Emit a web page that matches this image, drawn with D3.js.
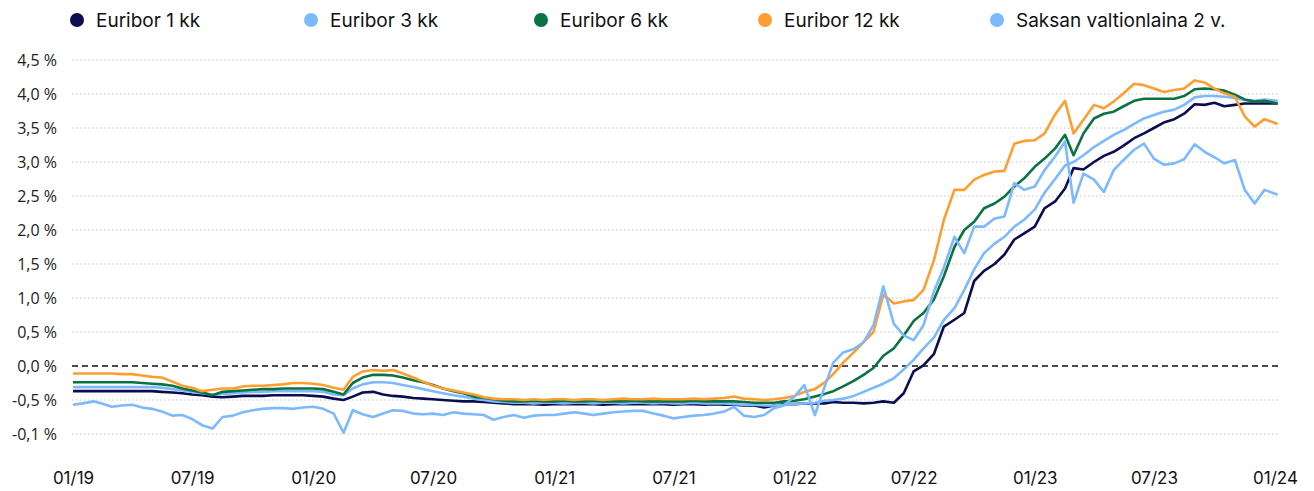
<!DOCTYPE html>
<html>
<head>
<meta charset="utf-8">
<script src="https://cdn.jsdelivr.net/npm/d3@7"></script>
<style>
  body { margin: 0; background: #fff; }
  svg { display: block; }
</style>
</head>
<body>
<svg id="chart" width="1314" height="491"></svg>
<script>
// half-monthly readings, 1st and 16th of each month from 01/2019, last one early 01/2024
const dates = d3.range(121).map(i => i < 120 ? new Date(2019, Math.floor(i / 2), i % 2 ? 16 : 1) : new Date(2024, 0, 5));

const euribor1 = [
  -0.37,-0.37,-0.37,-0.37,-0.37,-0.37,-0.37,-0.37,-0.37,
  -0.38,-0.39,-0.40,-0.42,-0.43,-0.45,-0.46,-0.45,-0.44,-0.44,-0.44,-0.43,
  -0.43,-0.43,-0.43,-0.44,-0.45,-0.48,-0.50,-0.45,-0.39,-0.38,
  -0.42,-0.44,-0.45,-0.47,-0.48,-0.49,-0.50,-0.51,-0.52,-0.52,
  -0.53,-0.54,-0.55,-0.56,-0.56,-0.56,-0.57,-0.56,-0.56,-0.56,
  -0.56,-0.56,-0.57,-0.56,-0.56,-0.56,-0.56,-0.56,-0.56,-0.57,
  -0.56,-0.56,-0.57,-0.56,-0.57,-0.57,-0.58,-0.58,-0.61,-0.58,
  -0.56,-0.56,-0.55,-0.55,-0.55,-0.53,-0.54,-0.54,-0.55,-0.54,
  -0.52,-0.54,-0.40,-0.08,0.01,0.18,0.58,0.68,0.78,1.25,
  1.40,1.50,1.64,1.86,1.95,2.05,2.32,2.42,2.61,2.91,
  2.89,3.00,3.09,3.15,3.24,3.35,3.42,3.50,3.58,3.63,
  3.71,3.85,3.84,3.87,3.82,3.84,3.86,3.86,3.86,3.86
];

const euribor3 = [
  -0.31,-0.31,-0.31,-0.31,-0.31,-0.31,-0.31,-0.31,-0.31,
  -0.32,-0.34,-0.36,-0.38,-0.40,-0.42,-0.41,-0.40,-0.39,-0.38,-0.38,-0.37,
  -0.37,-0.37,-0.37,-0.37,-0.38,-0.42,-0.43,-0.33,-0.27,-0.24,
  -0.24,-0.25,-0.28,-0.31,-0.34,-0.37,-0.40,-0.43,-0.45,-0.48,
  -0.50,-0.52,-0.53,-0.54,-0.54,-0.55,-0.54,-0.54,-0.55,-0.54,
  -0.54,-0.55,-0.54,-0.54,-0.55,-0.54,-0.54,-0.55,-0.54,-0.55,
  -0.55,-0.54,-0.55,-0.55,-0.55,-0.56,-0.57,-0.57,-0.58,-0.58,
  -0.57,-0.56,-0.55,-0.54,-0.51,-0.50,-0.48,-0.44,-0.38,-0.32,
  -0.26,-0.18,-0.05,0.09,0.26,0.42,0.68,0.85,1.12,1.42,
  1.66,1.80,1.90,2.05,2.15,2.30,2.55,2.75,2.95,3.00,
  3.10,3.22,3.31,3.40,3.47,3.56,3.64,3.69,3.74,3.77,
  3.84,3.95,3.97,3.97,3.96,3.94,3.91,3.90,3.92,3.90
];

const euribor6 = [
  -0.24,-0.24,-0.24,-0.24,-0.24,-0.24,-0.24,-0.25,-0.26,
  -0.27,-0.29,-0.33,-0.36,-0.39,-0.43,-0.38,-0.37,-0.36,-0.35,-0.34,-0.34,
  -0.33,-0.33,-0.33,-0.33,-0.34,-0.38,-0.42,-0.25,-0.17,-0.13,
  -0.13,-0.14,-0.17,-0.21,-0.24,-0.28,-0.33,-0.37,-0.40,-0.45,
  -0.47,-0.49,-0.51,-0.52,-0.52,-0.51,-0.52,-0.52,-0.51,-0.52,
  -0.52,-0.51,-0.52,-0.52,-0.52,-0.51,-0.52,-0.52,-0.52,-0.52,
  -0.52,-0.51,-0.52,-0.52,-0.52,-0.52,-0.53,-0.54,-0.54,-0.54,
  -0.52,-0.51,-0.49,-0.45,-0.41,-0.37,-0.30,-0.22,-0.13,-0.03,
  0.15,0.26,0.45,0.66,0.78,0.98,1.32,1.75,2.00,2.12,
  2.32,2.39,2.49,2.64,2.76,2.93,3.05,3.20,3.40,3.10,
  3.42,3.64,3.71,3.74,3.82,3.90,3.93,3.93,3.93,3.93,
  3.97,4.07,4.08,4.07,4.05,3.99,3.92,3.89,3.90,3.86
];

const euribor12 = [
  -0.11,-0.11,-0.11,-0.11,-0.11,-0.12,-0.12,-0.14,-0.16,
  -0.17,-0.23,-0.29,-0.32,-0.37,-0.35,-0.33,-0.33,-0.30,-0.29,-0.29,-0.28,
  -0.27,-0.25,-0.25,-0.26,-0.28,-0.32,-0.35,-0.16,-0.08,-0.06,
  -0.07,-0.06,-0.11,-0.17,-0.23,-0.29,-0.33,-0.36,-0.39,-0.42,
  -0.46,-0.48,-0.49,-0.49,-0.50,-0.49,-0.50,-0.49,-0.49,-0.50,
  -0.49,-0.49,-0.50,-0.49,-0.48,-0.49,-0.49,-0.48,-0.49,-0.49,
  -0.49,-0.48,-0.49,-0.48,-0.47,-0.45,-0.48,-0.49,-0.50,-0.49,
  -0.47,-0.44,-0.38,-0.34,-0.24,-0.12,0.05,0.20,0.35,0.50,
  1.05,0.92,0.95,0.97,1.12,1.56,2.15,2.59,2.59,2.74,
  2.81,2.86,2.87,3.27,3.31,3.32,3.42,3.70,3.90,3.42,
  3.62,3.84,3.79,3.89,4.01,4.15,4.13,4.08,4.03,4.06,
  4.08,4.20,4.17,4.08,4.01,3.96,3.67,3.52,3.63,3.56
];

const bund2y = [
  -0.57,-0.55,-0.52,-0.56,-0.60,-0.58,-0.57,-0.61,-0.63,
  -0.67,-0.73,-0.72,-0.78,-0.87,-0.92,-0.75,-0.73,-0.68,-0.65,-0.63,-0.62,
  -0.62,-0.63,-0.61,-0.60,-0.63,-0.70,-0.98,-0.65,-0.71,-0.75,
  -0.70,-0.65,-0.66,-0.70,-0.71,-0.70,-0.72,-0.68,-0.70,-0.71,
  -0.72,-0.79,-0.75,-0.72,-0.76,-0.73,-0.72,-0.72,-0.70,-0.68,
  -0.70,-0.72,-0.70,-0.68,-0.67,-0.66,-0.66,-0.70,-0.73,-0.77,
  -0.75,-0.73,-0.72,-0.70,-0.67,-0.60,-0.73,-0.75,-0.72,-0.62,
  -0.58,-0.45,-0.28,-0.72,-0.30,0.05,0.20,0.25,0.35,0.60,
  1.17,0.62,0.45,0.38,0.60,1.10,1.45,1.90,1.66,2.05,
  2.05,2.17,2.20,2.69,2.59,2.64,2.88,3.08,3.30,2.40,
  2.83,2.74,2.56,2.88,3.03,3.18,3.27,3.05,2.96,2.98,
  3.04,3.26,3.15,3.07,2.98,3.03,2.59,2.39,2.59,2.52
];

const seriesNames = ['Euribor 1 kk', 'Euribor 3 kk', 'Euribor 6 kk', 'Euribor 12 kk', 'Saksan valtionlaina 2 v.'];
const seriesValues = [euribor1, euribor3, euribor6, euribor12, bund2y];
const seriesColors = ['#0c0d50', '#7cb9ff', '#0a7341', '#ff9e30', '#7cb9ff'];

const yTicks = [-1, -0.5, 0, 0.5, 1, 1.5, 2, 2.5, 3, 3.5, 4, 4.5];
const yTickLabels = ['-0,1 %', '-0,5 %', '0,0 %', '0,5 %', '1,0 %', '1,5 %', '2,0 %', '2,5 %', '3,0 %', '3,5 %', '4,0 %', '4,5 %'];
const xTicks = ['2019-01', '2019-07', '2020-01', '2020-07', '2021-01', '2021-07', '2022-01', '2022-07', '2023-01', '2023-07', '2024-01'];

const svg = d3.select('#chart');

const x = d3.scaleTime()
  .domain([new Date(2019, 0, 1), new Date(2024, 0, 1)])
  .range([73, 1275]);

const y = d3.scaleLinear()
  .domain([-1, 4.5])
  .range([434, 60]);

const gridLeft = 72, gridRight = 1280;

// dotted grid
svg.append('g')
  .selectAll('line')
  .data(yTicks.filter(v => v !== 0))
  .join('line')
    .attr('x1', gridLeft)
    .attr('x2', gridRight)
    .attr('y1', d => y(d))
    .attr('y2', d => y(d))
    .attr('stroke', '#c4c4c4')
    .attr('stroke-width', 1)
    .attr('stroke-dasharray', '1.5,2.5');

// y labels
const yAxis = d3.axisLeft(y)
  .tickValues(yTicks)
  .tickSize(0)
  .tickPadding(0)
  .tickFormat((d, i) => yTickLabels[i]);

svg.append('g')
  .attr('transform', 'translate(57,0)')
  .call(yAxis)
  .call(g => g.select('.domain').remove())
  .call(g => g.selectAll('text')
    .attr('font-family', '"Open Sans", sans-serif')
    .attr('font-size', 16)
    .attr('fill', '#222'));

// x labels
const parseMonth = d3.timeParse('%Y-%m');
const xAxis = d3.axisBottom(x)
  .tickValues(xTicks.map(parseMonth))
  .tickSize(0)
  .tickPadding(0)
  .tickFormat(d3.timeFormat('%m/%y'));

svg.append('g')
  .attr('transform', 'translate(0,472)')
  .call(xAxis)
  .call(g => g.select('.domain').remove())
  .call(g => g.selectAll('text')
    .attr('font-family', 'Inter, sans-serif')
    .attr('font-size', 17)
    .attr('fill', '#111'));

// zero line
svg.append('line')
  .attr('x1', gridLeft)
  .attr('x2', gridRight)
  .attr('y1', y(0))
  .attr('y2', y(0))
  .attr('stroke', '#111')
  .attr('stroke-width', 1.5)
  .attr('stroke-dasharray', '6,4');

// lines
const line = d3.line()
  .x((d, i) => x(dates[i]))
  .y(d => y(d));

svg.append('g')
  .selectAll('path')
  .data(seriesValues)
  .join('path')
    .attr('d', d => line(d))
    .attr('fill', 'none')
    .attr('stroke', (d, i) => seriesColors[i])
    .attr('stroke-width', 2.6)
    .attr('stroke-linejoin', 'round');

// legend
const legendX = [77, 311, 541, 765, 997];
const legend = svg.append('g')
  .selectAll('g')
  .data(seriesNames)
  .join('g')
    .attr('transform', (d, i) => `translate(${legendX[i]},20)`);

legend.append('circle')
  .attr('r', 7)
  .attr('fill', (d, i) => seriesColors[i]);

legend.append('text')
  .attr('x', 19)
  .attr('dy', '0.35em')
  .attr('font-family', 'Inter, sans-serif')
  .attr('font-size', 19)
  .attr('fill', '#111')
  .text(d => d);
</script>
</body>
</html>
